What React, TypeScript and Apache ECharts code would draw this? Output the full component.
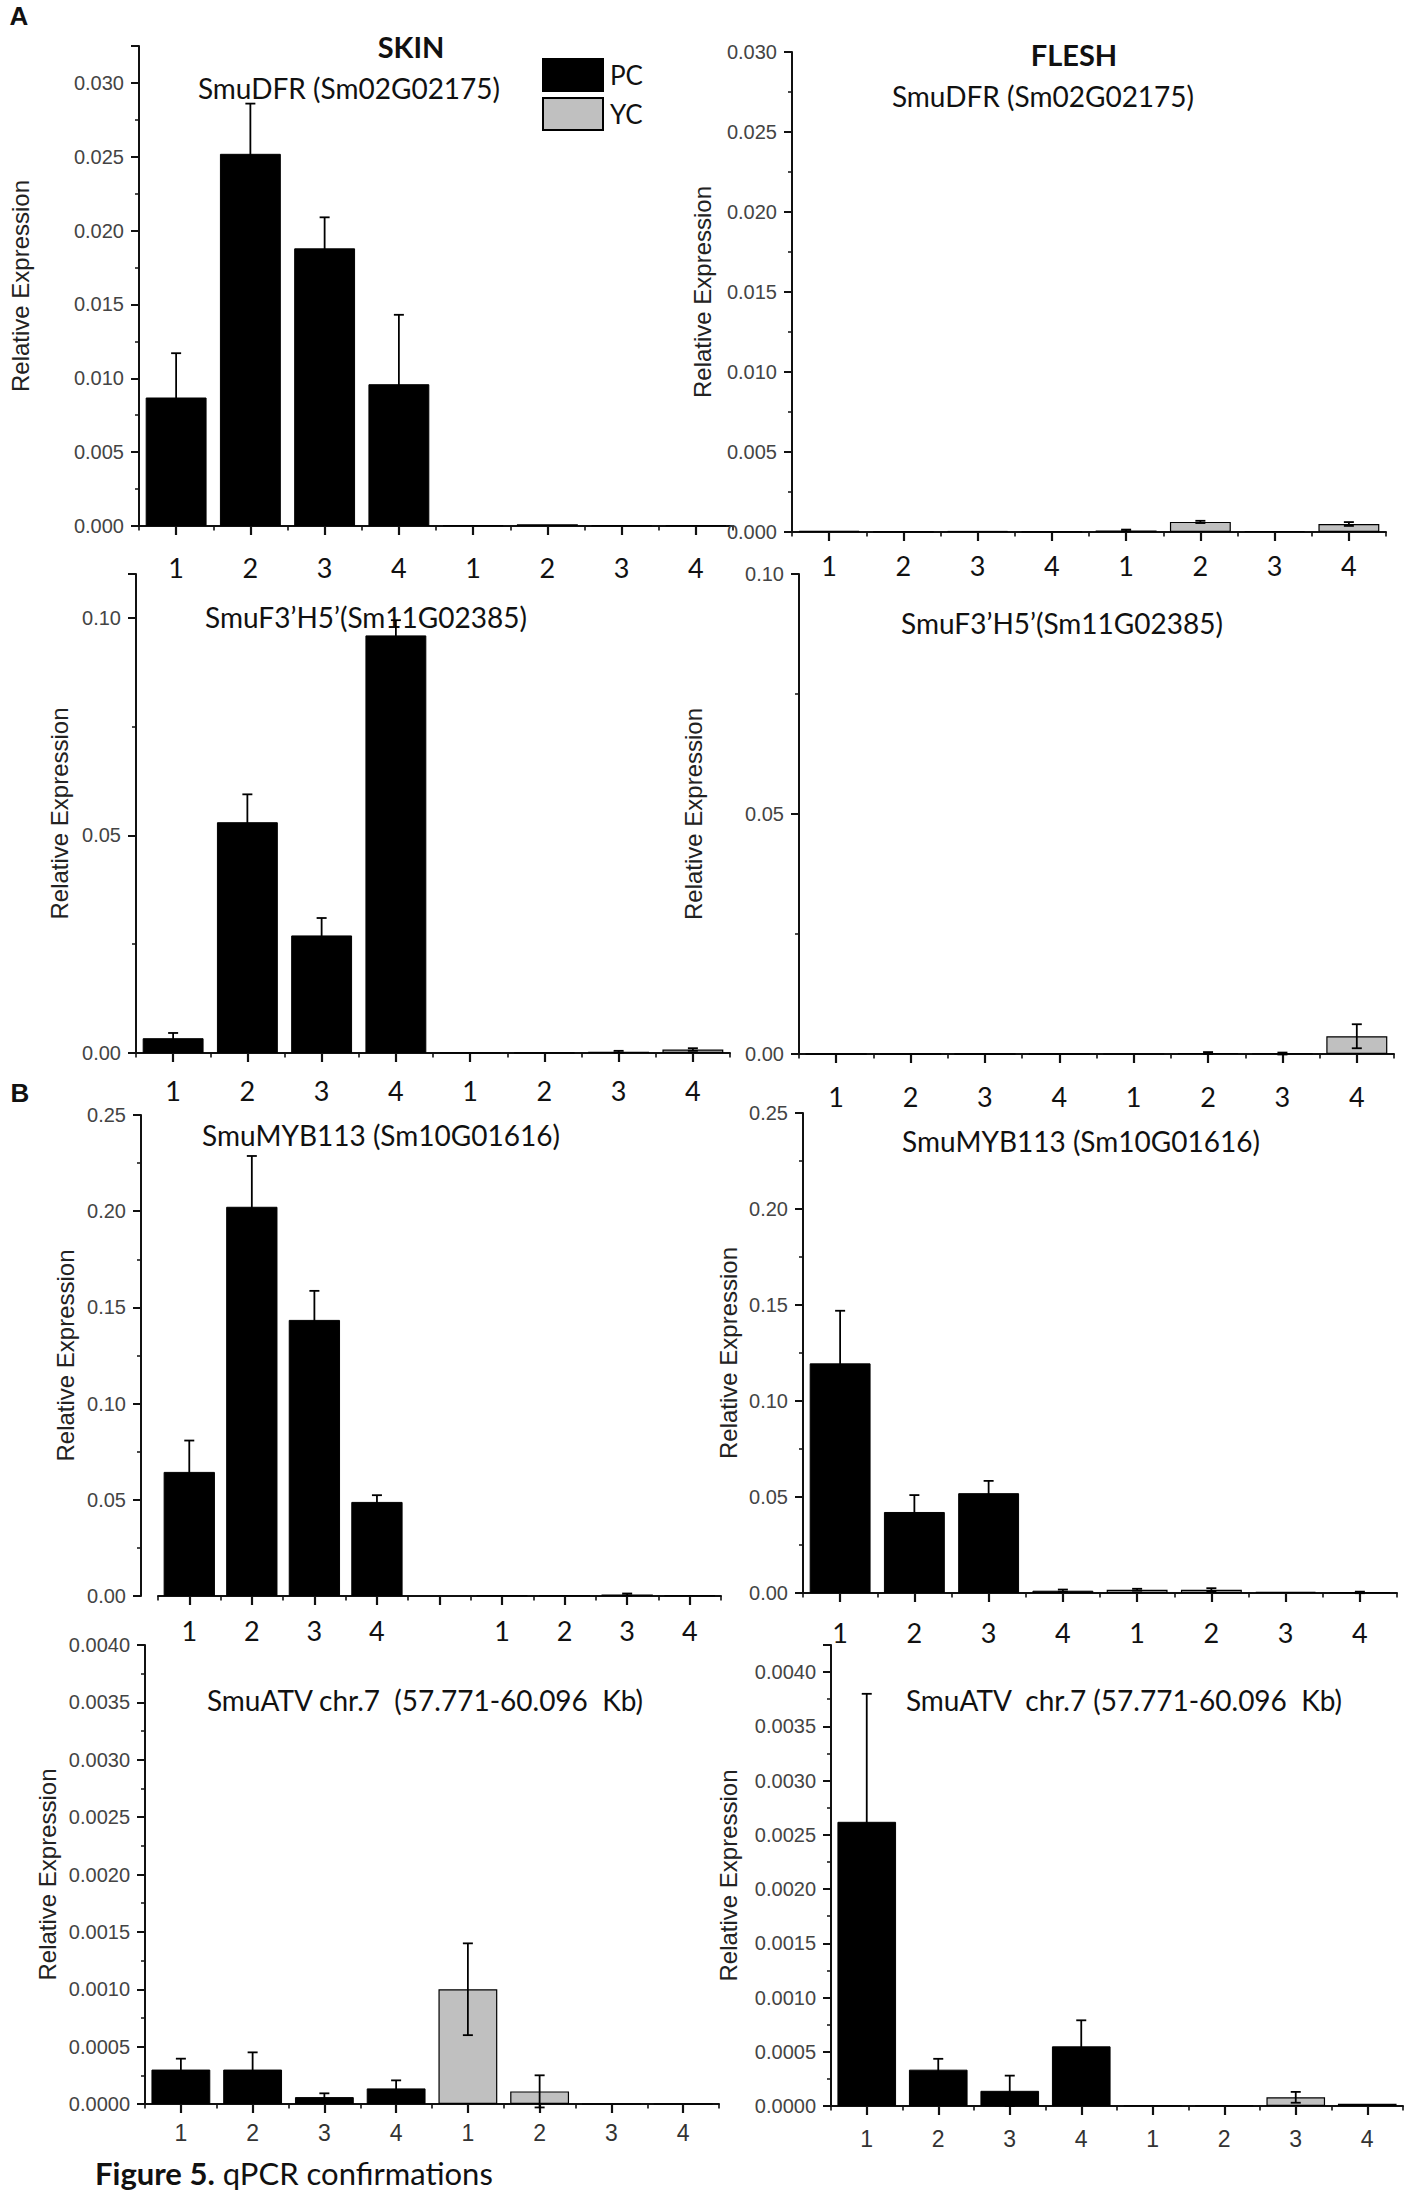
import { useEffect, useRef } from "react";
import * as echarts from "echarts";

// ---------- data ----------
const samples = ["1", "2", "3", "4", "1", "2", "3", "4"];
const samplesWithGap = ["1", "2", "3", "4", "", "1", "2", "3", "4"];
const groupNames = ["PC", "YC"];

const skinDfrPC = [0.0087, 0.0252, 0.0188, 0.0096];
const skinDfrPCErr = [0.003, 0.0034, 0.0021, 0.0047];
const skinDfrYC = [0.00005, 0.00012, 0.00004, 0.00004];
const skinDfrYCErr = [0, 0, 0, 0];

const fleshDfrPC = [0.00008, 0.00003, 0.00007, 0.00003];
const fleshDfrPCErr = [0, 0, 0, 0];
const fleshDfrYC = [0.0001, 0.00063, 0.00006, 0.0005];
const fleshDfrYCErr = [0.00005, 0.00007, 0, 0.00012];

const skinF3PC = [0.0034, 0.053, 0.027, 0.0959];
const skinF3PCErr = [0.0012, 0.0064, 0.004, 0.0035];
const skinF3YC = [0.0001, 0.0001, 0.0003, 0.0008];
const skinF3YCErr = [0, 0, 0.0002, 0.0003];

const fleshF3PC = [0, 0, 0, 0];
const fleshF3PCErr = [0, 0, 0, 0];
const fleshF3YC = [0, 0.0002, 0.0001, 0.0037];
const fleshF3YCErr = [0, 0.0002, 0.0002, 0.0025];

const skinMybPC = [0.0645, 0.2023, 0.1435, 0.0489];
const skinMybPCErr = [0.0163, 0.0264, 0.0151, 0.0035];
const skinMybYC = [0.0003, 0.0003, 0.0008, 0.0003];
const skinMybYCErr = [0, 0, 0.0005, 0];

const fleshMybPC = [0.1196, 0.0422, 0.052, 0.0012];
const fleshMybPCErr = [0.0274, 0.0088, 0.0064, 0.0006];
const fleshMybYC = [0.0017, 0.0017, 0.0006, 0.0003];
const fleshMybYCErr = [0.0005, 0.0008, 0, 0.0004];

const skinAtvPC = [0.0003, 0.0003, 0.00006, 0.000136];
const skinAtvPCErr = [0.000095, 0.00015, 0.000033, 0.00007];
const skinAtvYC = [0.001, 0.00011, 0, 0];
const skinAtvYCErr = [0.0004, 0.00014, 0, 0];

const fleshAtvPC = [0.00262, 0.000335, 0.00014, 0.00055];
const fleshAtvPCErr = [0.00118, 0.0001, 0.00014, 0.00024];
const fleshAtvYC = [0.000005, 0.000005, 0.00008, 0.00002];
const fleshAtvYCErr = [0, 0, 0.00005, 0];

const yMax = [0.0325, 0.03, 0.11, 0.1, 0.25, 0.25, 0.004, 0.00425];
const yInterval = [0.005, 0.005, 0.05, 0.05, 0.05, 0.05, 0.0005, 0.0005];
const yDigits = [3, 3, 2, 2, 2, 2, 4, 4];

const geneTitles = [
  "SmuDFR (Sm02G02175)",
  "SmuDFR (Sm02G02175)",
  "SmuF3\u2019H5\u2019(Sm11G02385)",
  "SmuF3\u2019H5\u2019(Sm11G02385)",
  "SmuMYB113 (Sm10G01616)",
  "SmuMYB113 (Sm10G01616)",
  "SmuATV chr.7  (57.771-60.096  Kb)",
  "SmuATV  chr.7 (57.771-60.096  Kb)",
];

const panelData = [
  { cats: samples, pc: skinDfrPC, pcErr: skinDfrPCErr, yc: skinDfrYC, ycErr: skinDfrYCErr },
  { cats: samples, pc: fleshDfrPC, pcErr: fleshDfrPCErr, yc: fleshDfrYC, ycErr: fleshDfrYCErr },
  { cats: samples, pc: skinF3PC, pcErr: skinF3PCErr, yc: skinF3YC, ycErr: skinF3YCErr },
  { cats: samples, pc: fleshF3PC, pcErr: fleshF3PCErr, yc: fleshF3YC, ycErr: fleshF3YCErr },
  { cats: samplesWithGap, pc: skinMybPC, pcErr: skinMybPCErr, yc: skinMybYC, ycErr: skinMybYCErr },
  { cats: samples, pc: fleshMybPC, pcErr: fleshMybPCErr, yc: fleshMybYC, ycErr: fleshMybYCErr },
  { cats: samples, pc: skinAtvPC, pcErr: skinAtvPCErr, yc: skinAtvYC, ycErr: skinAtvYCErr },
  { cats: samples, pc: fleshAtvPC, pcErr: fleshAtvPCErr, yc: fleshAtvYC, ycErr: fleshAtvYCErr },
];

// ---------- layout ----------
const layout = [
  { left: 139, top: 46, width: 594, height: 480, offset: 0, nameGap: 107, xMargin: 28, tx: 349, ty: 88, arialX: false },
  { left: 792, top: 52, width: 594, height: 480, offset: 0, nameGap: 78, xMargin: 20, tx: 1043, ty: 96, arialX: false },
  { left: 136, top: 574, width: 594, height: 479, offset: 0, nameGap: 65, xMargin: 24, tx: 366, ty: 617, arialX: false },
  { left: 799, top: 574, width: 595, height: 480, offset: 0, nameGap: 94, xMargin: 29, tx: 1062, ty: 623, arialX: false },
  { left: 158, top: 1115, width: 563, height: 481, offset: 17, nameGap: 64, xMargin: 21, tx: 381, ty: 1135, arialX: false },
  { left: 803, top: 1113, width: 594, height: 480, offset: 0, nameGap: 63, xMargin: 26, tx: 1081, ty: 1141, arialX: false },
  { left: 145, top: 1645, width: 574, height: 459, offset: 0, nameGap: 86, xMargin: 17, tx: 425, ty: 1700, arialX: true },
  { left: 831, top: 1645, width: 572, height: 461, offset: 0, nameGap: 91, xMargin: 21, tx: 1124, ty: 1700, arialX: true },
];

const INK = "#111";
const YC_FILL = "#c0c0c0";

function buildOption() {
  const grid = layout.map((l) => ({ left: l.left, top: l.top, width: l.width, height: l.height }));
  const xAxis: any[] = [];
  const yAxis: any[] = [];
  const series: any[] = [];

  panelData.forEach((p, i) => {
    const l = layout[i];
    xAxis.push({
      type: "category",
      gridIndex: i,
      position: "bottom",
      data: p.cats,
      axisLine: { show: true, lineStyle: { color: INK, width: 2 } },
      axisTick: { show: true, alignWithLabel: true, interval: 0, length: 9, lineStyle: { color: INK, width: 2.2 } },
      axisLabel: {
        interval: 0,
        margin: l.xMargin,
        fontFamily: l.arialX ? "Liberation Sans" : "Lato",
        fontSize: l.arialX ? 23 : 27,
        color: l.arialX ? "#333" : INK,
      },
      splitLine: { show: false },
    });
    xAxis.push({
      type: "category",
      gridIndex: i,
      position: "bottom",
      data: p.cats,
      axisLine: { show: false },
      axisTick: { show: true, alignWithLabel: false, interval: 0, length: 4.5, lineStyle: { color: INK, width: 1.6 } },
      axisLabel: { show: false, interval: 0 },
      splitLine: { show: false },
    });
    const digits = yDigits[i];
    yAxis.push({
      type: "value",
      gridIndex: i,
      min: 0,
      max: yMax[i],
      interval: yInterval[i],
      offset: l.offset,
      name: "Relative Expression",
      nameLocation: "middle",
      nameGap: l.nameGap,
      nameTextStyle: { fontFamily: "Liberation Sans", fontSize: 24, color: "#222" },
      axisLine: { show: true, lineStyle: { color: INK, width: 2 } },
      axisTick: { show: true, length: 8, lineStyle: { color: INK, width: 2 } },
      minorTick: { show: true, splitNumber: 2, length: 4, lineStyle: { color: INK, width: 1.5 } },
      splitLine: { show: false },
      minorSplitLine: { show: false },
      axisLabel: {
        formatter: (v: number) => v.toFixed(digits),
        showMaxLabel: Math.abs(Math.round(yMax[i] / yInterval[i]) * yInterval[i] - yMax[i]) < 1e-9,
        fontFamily: "Liberation Sans",
        fontSize: 20,
        color: "#444",
        margin: 15,
      },
    });

    const n = p.cats.length;
    const ycStart = n - 4;
    const pcData = p.cats.map((_, k) => (k < 4 ? p.pc[k] : "-"));
    const ycData = p.cats.map((_, k) => (k >= ycStart ? p.yc[k - ycStart] : "-"));
    series.push({
      name: groupNames[0],
      type: "bar",
      xAxisIndex: 2 * i,
      yAxisIndex: i,
      data: pcData,
      barWidth: "82%",
      barGap: "-100%",
      itemStyle: { color: "#000", borderColor: "#000", borderWidth: 1 },
    });
    series.push({
      name: groupNames[1],
      type: "bar",
      xAxisIndex: 2 * i,
      yAxisIndex: i,
      data: ycData,
      barWidth: "82%",
      barGap: "-100%",
      itemStyle: { color: YC_FILL, borderColor: "#000", borderWidth: 1.2 },
    });
    const errData: number[][] = [];
    p.pcErr.forEach((e, k) => {
      if (e > 0) errData.push([k, p.pc[k], e]);
    });
    p.ycErr.forEach((e, k) => {
      if (e > 0) errData.push([ycStart + k, p.yc[k], e]);
    });
    series.push({
      type: "custom",
      xAxisIndex: 2 * i,
      yAxisIndex: i,
      z: 5,
      encode: { x: 0, y: 1 },
      data: errData,
      renderItem: (_params: any, api: any) => {
        const x = api.value(0);
        const v = api.value(1);
        const e = api.value(2);
        const top = api.coord([x, v + e]);
        const bot = api.coord([x, v - e]);
        const cw = 5;
        const st = { stroke: "#000", lineWidth: 1.8 };
        return {
          type: "group",
          children: [
            { type: "line", shape: { x1: top[0], y1: top[1], x2: bot[0], y2: bot[1] }, style: st },
            { type: "line", shape: { x1: top[0] - cw, y1: top[1], x2: top[0] + cw, y2: top[1] }, style: st },
            { type: "line", shape: { x1: bot[0] - cw, y1: bot[1], x2: bot[0] + cw, y2: bot[1] }, style: st },
          ],
        };
      },
    });
  });

  const graphic: any[] = [];
  const centerText = (text: string, x: number, y: number, font: any) => ({
    type: "text",
    x,
    y,
    silent: true,
    style: { text, textAlign: "center", textVerticalAlign: "middle", fill: INK, ...font },
  });
  layout.forEach((l, i) => {
    graphic.push(centerText(geneTitles[i], l.tx, l.ty, { fontFamily: "Lato", fontSize: 28 }));
  });
  graphic.push(centerText("SKIN", 411, 46, { fontFamily: "Lato", fontSize: 29, fontWeight: "bold" }));
  graphic.push(centerText("FLESH", 1074, 54, { fontFamily: "Lato", fontSize: 29, fontWeight: "bold" }));
  graphic.push(centerText("A", 19, 16, { fontFamily: "Liberation Sans", fontSize: 26, fontWeight: "bold" }));
  graphic.push(centerText("B", 20, 1093, { fontFamily: "Liberation Sans", fontSize: 26, fontWeight: "bold" }));
  graphic.push({
    type: "text",
    x: 95,
    y: 2173,
    silent: true,
    style: {
      text: "{b|Figure 5.} qPCR confirmations",
      textAlign: "left",
      textVerticalAlign: "middle",
      fill: INK,
      fontFamily: "Lato",
      fontSize: 31,
      rich: { b: { fontFamily: "Lato", fontSize: 31, fontWeight: "bold", fill: INK } },
    },
  });

  return {
    animation: false,
    backgroundColor: "#fff",
    textStyle: { fontFamily: "Liberation Sans" },
    legend: {
      data: groupNames,
      orient: "vertical",
      left: 542,
      top: 58,
      padding: 0,
      itemWidth: 60,
      itemHeight: 32,
      itemGap: 5,
      icon: "rect",
      selectedMode: false,
      itemStyle: { borderColor: "#000", borderWidth: 2 },
      textStyle: { fontFamily: "Lato", fontSize: 26, color: INK, padding: [0, 0, 0, 2] },
    },
    grid,
    xAxis,
    yAxis,
    series,
    graphic,
  };
}

export default function App() {
  const ref = useRef<HTMLDivElement>(null);
  useEffect(() => {
    if (!ref.current) return;
    const chart = echarts.init(ref.current, undefined, { renderer: "svg" });
    chart.setOption(buildOption() as any);
    return () => chart.dispose();
  }, []);
  return (
    <div
      ref={ref}
      style={{ position: "absolute", left: 0, top: 0, width: 1417, height: 2193, background: "#fff" }}
    />
  );
}
